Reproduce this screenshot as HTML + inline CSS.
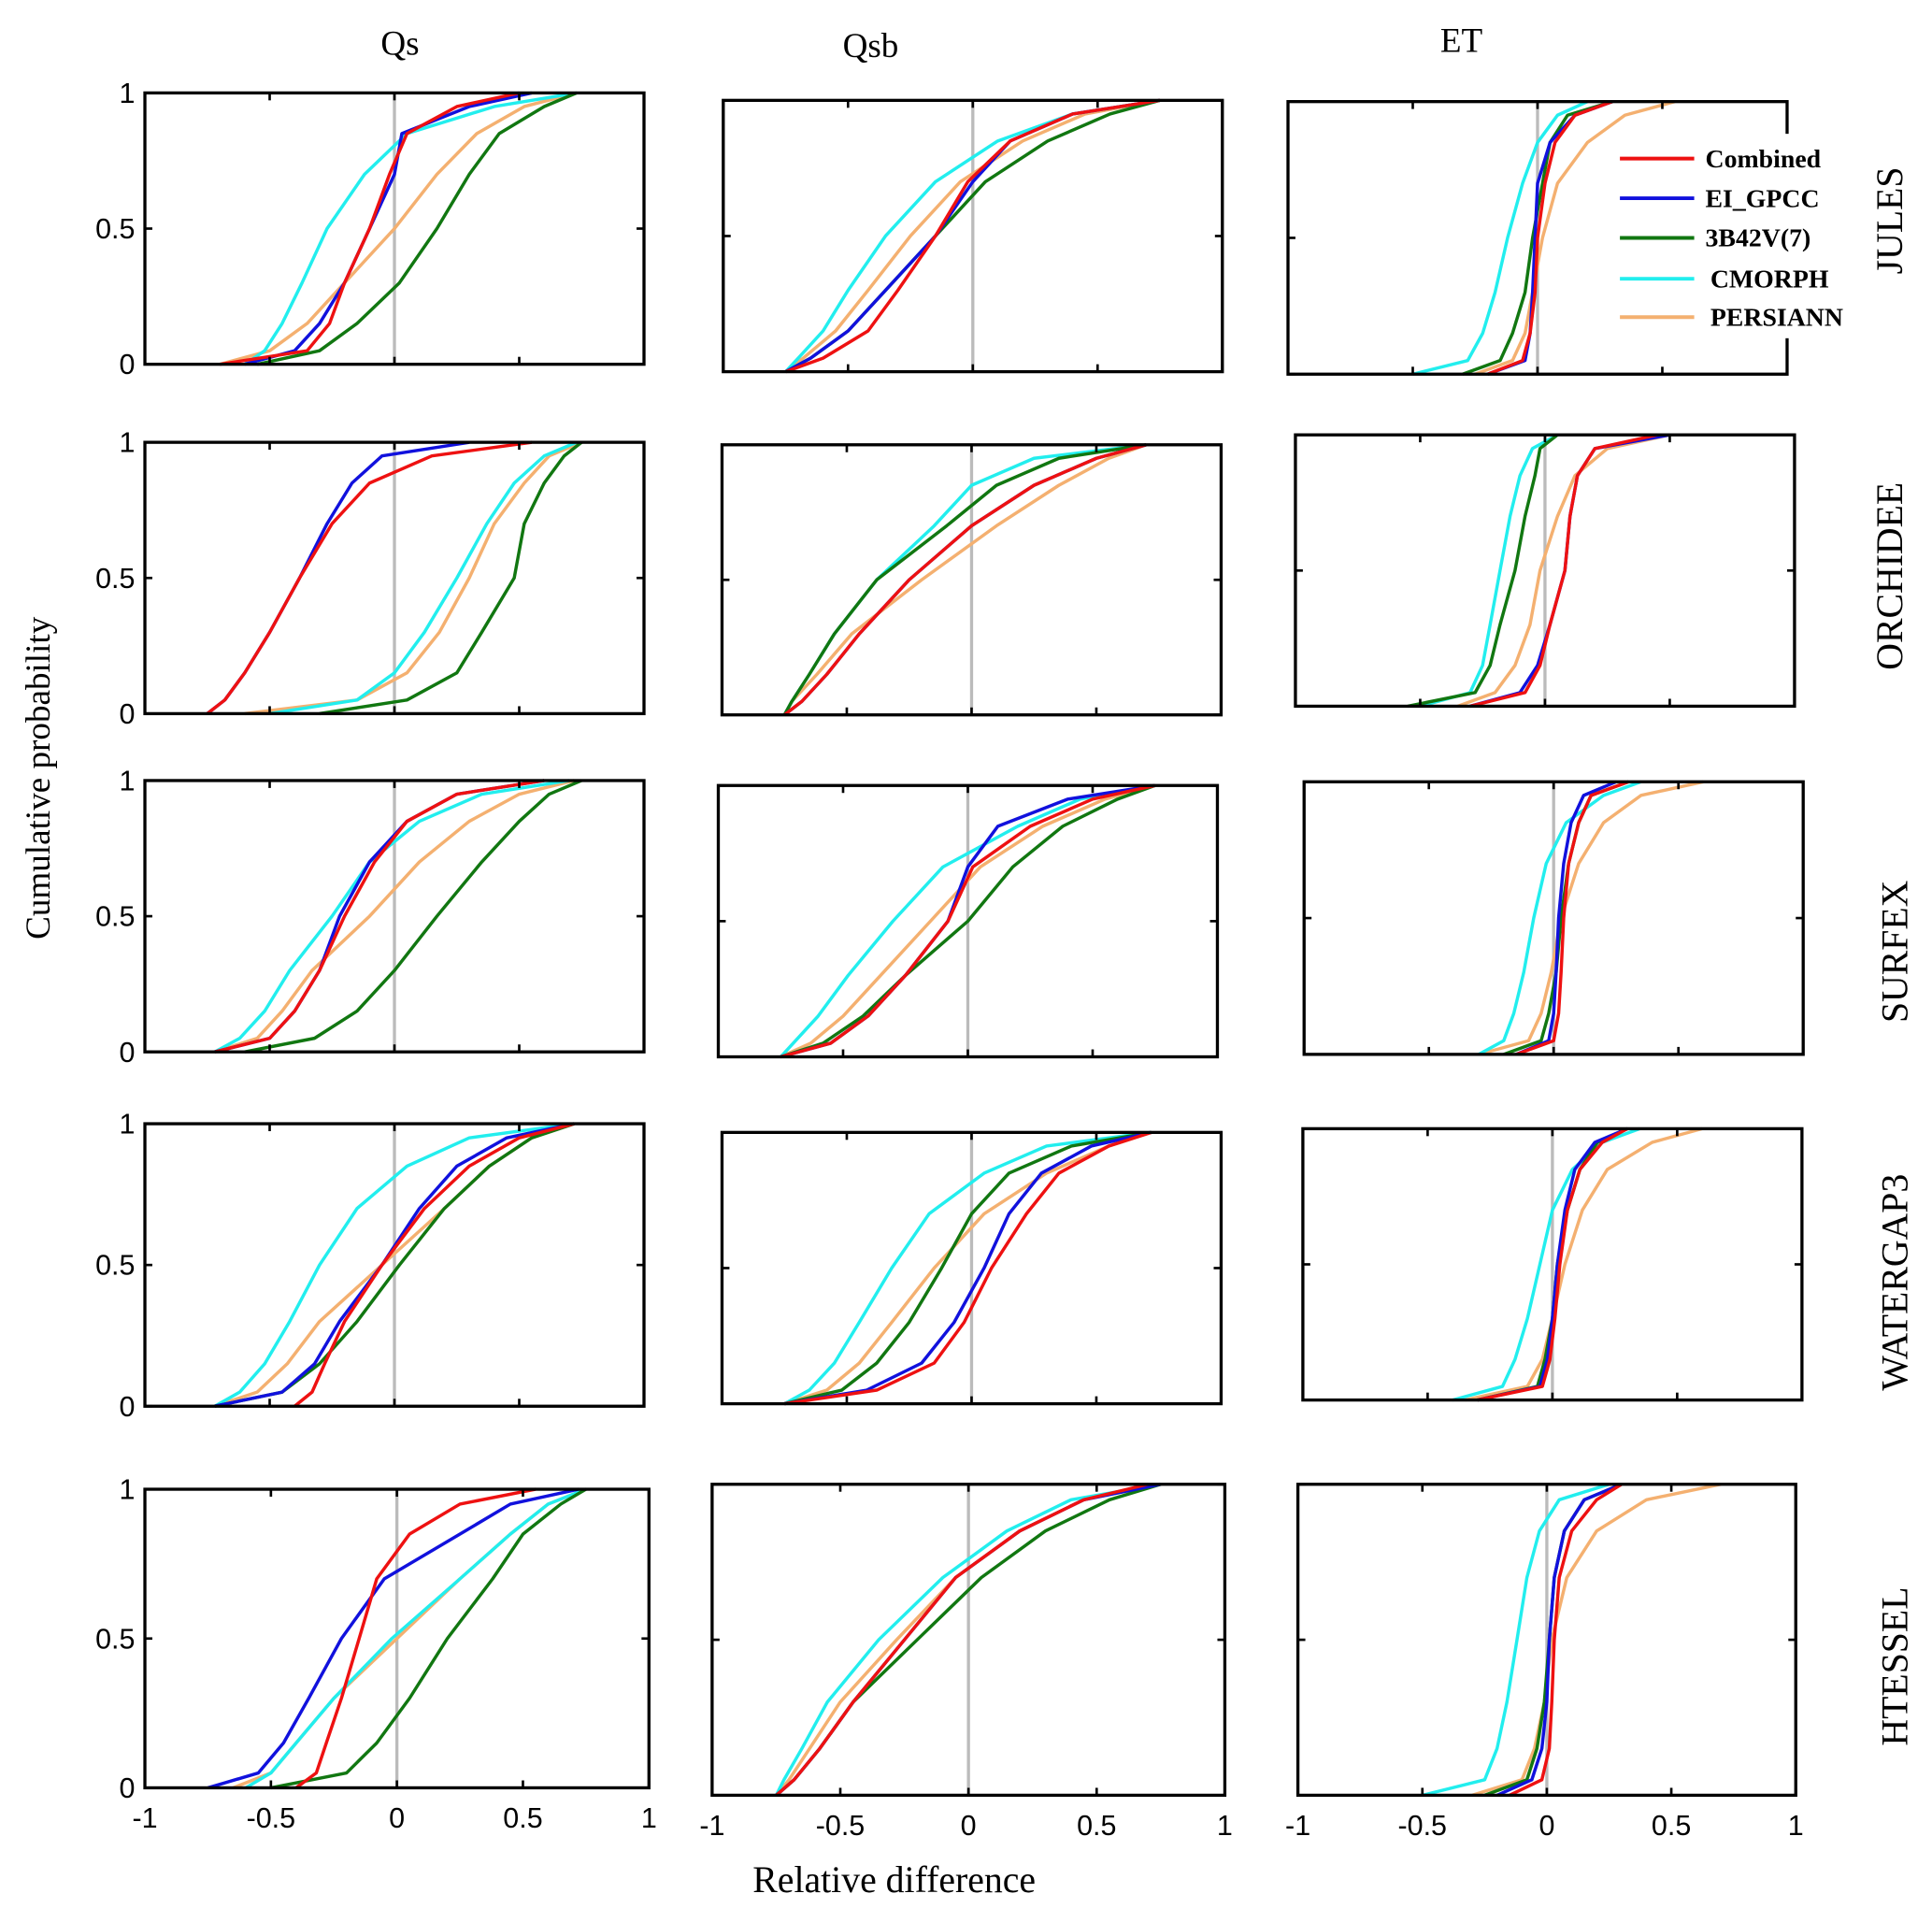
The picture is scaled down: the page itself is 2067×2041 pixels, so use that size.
<!DOCTYPE html>
<html><head><meta charset="utf-8"><style>
html,body{margin:0;padding:0;background:#fff;}
svg{display:block;}
</style></head><body>
<svg id="chart" xmlns="http://www.w3.org/2000/svg" width="2067" height="2041" viewBox="0 0 1560 1540" preserveAspectRatio="none">
<rect width="1560" height="1540" fill="#fff"/>
<g id="panels"></g>
<text x="323" y="44" font-family="Liberation Serif, serif" font-size="28" text-anchor="middle">Qs</text>
<text x="703" y="46" font-family="Liberation Serif, serif" font-size="28" text-anchor="middle">Qsb</text>
<text x="1180" y="42" font-family="Liberation Serif, serif" font-size="28" text-anchor="middle">ET</text>
<text transform="translate(40,628) rotate(-90)" font-family="Liberation Serif, serif" font-size="28" text-anchor="middle">Cumulative probability</text>
<text x="722" y="1527" font-family="Liberation Serif, serif" font-size="30" text-anchor="middle">Relative difference</text>
</svg>
<script>
const models = ['JULES','ORCHIDEE','SURFEX','WATERGAP3','HTESSEL'];
const variables = ['Qs','Qsb','ET'];
const seriesNames = ['Combined','EI_GPCC','3B42V(7)','CMORPH','PERSIANN'];
const probLevels = [0,0.05,0.15,0.3,0.5,0.7,0.85,0.95,1];
const xTicks = [-1,-0.5,0,0.5,1];
const xTickLabels = ['-1','-0.5','0','0.5','1'];
const yTicks = [0,0.5,1];
const yTickLabels = ['0','0.5','1'];
// quantile values (relative difference at each cumulative probability), order: Combined, EI_GPCC, 3B42V(7), CMORPH, PERSIANN
const qJULES_Qs = [[-0.7,-0.35,-0.26,-0.2,-0.1,-0.02,0.05,0.25,0.5],[-0.6,-0.4,-0.3,-0.2,-0.1,0,0.03,0.3,0.55],[-0.55,-0.3,-0.15,0.02,0.17,0.3,0.42,0.6,0.73],[-0.6,-0.52,-0.45,-0.37,-0.27,-0.12,0.05,0.4,0.73],[-0.7,-0.5,-0.35,-0.2,0,0.17,0.33,0.52,0.73]];
const qJULES_Qsb = [[-0.75,-0.6,-0.42,-0.3,-0.15,-0.02,0.15,0.4,0.75],[-0.75,-0.65,-0.5,-0.35,-0.15,0,0.15,0.4,0.75],[-0.75,-0.65,-0.5,-0.35,-0.15,0.05,0.3,0.55,0.75],[-0.75,-0.7,-0.6,-0.5,-0.35,-0.15,0.1,0.4,0.75],[-0.75,-0.68,-0.55,-0.42,-0.25,-0.05,0.2,0.45,0.75]];
const qJULES_ET = [[-0.2,-0.06,-0.03,-0.01,0,0.03,0.07,0.15,0.3],[-0.2,-0.05,-0.03,-0.02,-0.01,0,0.05,0.15,0.3],[-0.3,-0.15,-0.1,-0.05,-0.02,0.02,0.05,0.12,0.3],[-0.5,-0.28,-0.22,-0.17,-0.12,-0.06,0,0.08,0.2],[-0.25,-0.1,-0.05,-0.02,0.02,0.08,0.2,0.35,0.55]];
const qORCHIDEE_Qs = [[-0.75,-0.68,-0.6,-0.5,-0.38,-0.25,-0.1,0.15,0.55],[-0.75,-0.68,-0.6,-0.5,-0.38,-0.27,-0.17,-0.05,0.3],[-0.3,0.05,0.25,0.35,0.48,0.52,0.6,0.68,0.75],[-0.5,-0.15,0,0.12,0.25,0.37,0.48,0.6,0.73],[-0.6,-0.15,0.05,0.18,0.3,0.4,0.52,0.62,0.75]];
const qORCHIDEE_Qsb = [[-0.75,-0.68,-0.58,-0.45,-0.25,0,0.25,0.5,0.7],[-0.75,-0.68,-0.58,-0.45,-0.25,0,0.25,0.5,0.7],[-0.75,-0.72,-0.65,-0.55,-0.38,-0.1,0.1,0.35,0.7],[-0.75,-0.72,-0.65,-0.55,-0.38,-0.15,0,0.25,0.7],[-0.75,-0.72,-0.62,-0.48,-0.2,0.1,0.35,0.55,0.7]];
const qORCHIDEE_ET = [[-0.3,-0.08,-0.02,0.02,0.08,0.1,0.13,0.2,0.45],[-0.3,-0.1,-0.03,0.02,0.08,0.1,0.13,0.2,0.5],[-0.55,-0.28,-0.22,-0.18,-0.12,-0.08,-0.04,-0.02,0.05],[-0.5,-0.3,-0.25,-0.22,-0.18,-0.14,-0.1,-0.05,0.05],[-0.35,-0.2,-0.12,-0.06,-0.02,0.05,0.12,0.25,0.5]];
const qSURFEX_Qs = [[-0.72,-0.5,-0.4,-0.3,-0.2,-0.08,0.05,0.25,0.6],[-0.72,-0.5,-0.4,-0.3,-0.22,-0.1,0.05,0.25,0.6],[-0.6,-0.32,-0.15,0,0.17,0.35,0.5,0.62,0.75],[-0.72,-0.62,-0.52,-0.42,-0.25,-0.1,0.1,0.35,0.7],[-0.72,-0.55,-0.45,-0.33,-0.1,0.1,0.3,0.5,0.72]];
const qSURFEX_Qsb = [[-0.75,-0.55,-0.4,-0.25,-0.08,0.02,0.25,0.5,0.75],[-0.75,-0.55,-0.4,-0.25,-0.08,0,0.12,0.4,0.75],[-0.75,-0.58,-0.42,-0.25,0,0.18,0.38,0.6,0.75],[-0.75,-0.7,-0.6,-0.48,-0.3,-0.1,0.2,0.45,0.75],[-0.75,-0.63,-0.5,-0.35,-0.15,0.05,0.3,0.55,0.75]];
const qSURFEX_ET = [[-0.15,0,0.02,0.03,0.04,0.06,0.1,0.15,0.3],[-0.15,-0.02,0,0.01,0.02,0.04,0.07,0.12,0.25],[-0.2,-0.05,-0.02,0.01,0.03,0.06,0.1,0.15,0.3],[-0.3,-0.2,-0.16,-0.12,-0.08,-0.03,0.05,0.2,0.35],[-0.3,-0.1,-0.05,-0.01,0.03,0.1,0.2,0.35,0.6]];
const qWATERGAP3_Qs = [[-0.4,-0.33,-0.28,-0.2,-0.05,0.12,0.3,0.5,0.72],[-0.72,-0.45,-0.32,-0.22,-0.05,0.1,0.25,0.45,0.72],[-0.72,-0.45,-0.3,-0.15,0.02,0.2,0.38,0.55,0.72],[-0.72,-0.62,-0.52,-0.42,-0.3,-0.15,0.05,0.3,0.72],[-0.72,-0.55,-0.43,-0.3,-0.05,0.2,0.38,0.55,0.72]];
const qWATERGAP3_Qsb = [[-0.75,-0.38,-0.15,-0.03,0.08,0.22,0.35,0.55,0.72],[-0.75,-0.42,-0.2,-0.07,0.05,0.15,0.28,0.48,0.72],[-0.75,-0.52,-0.38,-0.25,-0.12,0,0.15,0.4,0.72],[-0.75,-0.65,-0.55,-0.45,-0.32,-0.17,0.05,0.3,0.72],[-0.75,-0.58,-0.45,-0.32,-0.15,0.05,0.3,0.55,0.72]];
const qWATERGAP3_ET = [[-0.3,-0.04,-0.01,0.01,0.03,0.06,0.11,0.2,0.3],[-0.3,-0.05,-0.02,0,0.02,0.05,0.09,0.17,0.3],[-0.3,-0.06,-0.03,0,0.02,0.06,0.11,0.18,0.3],[-0.4,-0.2,-0.15,-0.1,-0.05,0,0.08,0.2,0.35],[-0.35,-0.1,-0.04,0,0.05,0.12,0.22,0.4,0.6]];
const qHTESSEL_Qs = [[-0.4,-0.32,-0.28,-0.22,-0.15,-0.08,0.05,0.25,0.55],[-0.75,-0.55,-0.45,-0.35,-0.22,-0.05,0.25,0.45,0.72],[-0.5,-0.2,-0.08,0.05,0.2,0.38,0.5,0.65,0.75],[-0.6,-0.5,-0.4,-0.25,-0.02,0.25,0.45,0.6,0.75],[-0.65,-0.5,-0.4,-0.25,0,0.25,0.45,0.6,0.75]];
const qHTESSEL_Qsb = [[-0.75,-0.68,-0.58,-0.45,-0.25,-0.05,0.2,0.45,0.7],[-0.75,-0.68,-0.58,-0.45,-0.25,-0.05,0.2,0.45,0.75],[-0.75,-0.68,-0.58,-0.45,-0.2,0.05,0.3,0.55,0.75],[-0.75,-0.72,-0.65,-0.55,-0.35,-0.1,0.15,0.4,0.75],[-0.75,-0.7,-0.62,-0.5,-0.28,-0.05,0.2,0.45,0.75]];
const qHTESSEL_ET = [[-0.15,-0.02,0.01,0.02,0.03,0.05,0.1,0.2,0.3],[-0.2,-0.06,-0.02,0,0.01,0.03,0.07,0.15,0.3],[-0.25,-0.08,-0.04,-0.01,0.01,0.03,0.07,0.15,0.3],[-0.5,-0.25,-0.2,-0.16,-0.12,-0.08,-0.03,0.05,0.25],[-0.3,-0.1,-0.05,-0.01,0.02,0.08,0.2,0.4,0.7]];

const colors = ['#ee1111','#1111dd','#117711','#22eeee','#f4b070'];
const boxes = [
 [[117,75,520,294],[584,81,987,300],[1040,82,1443,302]],
 [[117,357,520,576],[583,359,986,577],[1046,351,1449,570]],
 [[117,630,520,849],[580,634,983,853],[1053,631,1456,851]],
 [[117,907,520,1135],[583,914,986,1133],[1052,911,1455,1130]],
 [[117,1202,524,1443],[575,1198,989,1449],[1048,1198,1450,1449]]
];
const rowLabelY=[178,465,768,1035,1345];
const ns='http://www.w3.org/2000/svg';
const root=document.getElementById('panels');
function mk(tag,attrs,parent){const e=document.createElementNS(ns,tag);for(const k in attrs)e.setAttribute(k,attrs[k]);(parent||root).appendChild(e);return e;}
const dataSets={};
models.forEach(m=>variables.forEach(v=>{dataSets[m+'_'+v]=eval('q'+m+'_'+v);}));

models.forEach((m,r)=>{
 variables.forEach((v,c)=>{
  const [x0,y0,x1,y1]=boxes[r][c];
  const sx=d=>x0+(d+1)/2*(x1-x0);
  const sy=p=>y1-p*(y1-y0);
  const g=mk('g',{});
  
  
  const zl=mk('line',{x1:sx(0),x2:sx(0),y1:y0,y2:y1,stroke:'#bbb','stroke-width':2.5},g);
  
  
  const qs=dataSets[m+'_'+v];
  [4,3,2,1,0].forEach(si=>{
   const pts=qs[si].map((d,i)=>sx(d).toFixed(1)+','+sy(probLevels[i]).toFixed(1));
   const pl=mk('polyline',{points:pts.join(' '),fill:'none',stroke:colors[si],'stroke-width':2.6,'stroke-linejoin':'round'},g);
   
   
  });
  const fr=mk('rect',{x:x0,y:y0,width:x1-x0,height:y1-y0,fill:'none',stroke:'#000','stroke-width':2.5},g);
  
  
  xTicks.forEach((t,i)=>{
   mk('line',{x1:sx(t),x2:sx(t),y1:y1,y2:y1-6,stroke:'#000','stroke-width':2},g);
   mk('line',{x1:sx(t),x2:sx(t),y1:y0,y2:y0+6,stroke:'#000','stroke-width':2},g);
   if(r===4){const tx=mk('text',{x:sx(t),y:y1+32,'font-family':'Liberation Sans, sans-serif','font-size':23,'text-anchor':'middle'},g);
    
    
    tx.textContent=xTickLabels[i];}
  });
  yTicks.forEach((t,i)=>{
   mk('line',{x1:x0,x2:x0+6,y1:sy(t),y2:sy(t),stroke:'#000','stroke-width':2},g);
   mk('line',{x1:x1,x2:x1-6,y1:sy(t),y2:sy(t),stroke:'#000','stroke-width':2},g);
   if(c===0){const ty=mk('text',{x:x0-8,y:sy(t)+8,'font-family':'Liberation Sans, sans-serif','font-size':23,'text-anchor':'end'},g);
    
    
    ty.textContent=yTickLabels[i];}
  });
 });
 const lab=mk('text',{transform:'translate('+(1536+(r>1?4:0))+','+rowLabelY[r]+') rotate(-90)','font-family':'Liberation Serif, serif','font-size':30,'text-anchor':'middle'});
 
 
 lab.textContent=m;
});

const lg=mk('g',{});


mk('rect',{x:1300,y:108,width:205,height:165,fill:'#fff'},lg);
const legY=[128,160,192,225,256];
seriesNames.forEach((n,i)=>{
 const e=mk('g',{},lg);
 
 
 mk('line',{x1:1308,x2:1368,y1:legY[i],y2:legY[i],stroke:colors[i],'stroke-width':3},e);
 const t=mk('text',{x:i>=3?1381:1377,y:legY[i]+7,'font-family':'Liberation Serif, serif','font-size':21,'font-weight':'bold'},e);
 t.textContent=n;
});
</script>
</body></html>
